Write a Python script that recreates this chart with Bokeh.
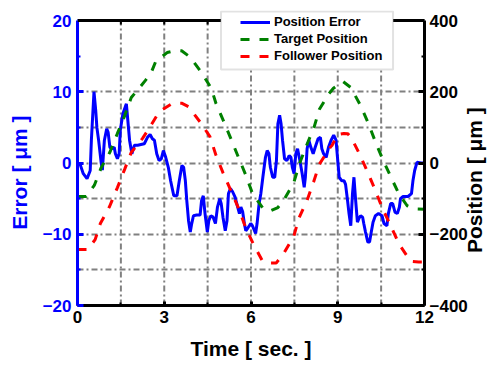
import math
from bokeh.plotting import figure
from bokeh.models import (Range1d, LinearAxis, FixedTicker, Legend,
                          LegendItem, Grid, BoxAnnotation, Span)
from bokeh.embed import file_html
from bokeh.resources import INLINE

# ---------------- data ----------------
err_t = [0, 0.1, 0.2, 0.33, 0.44, 0.48, 0.57, 0.63, 0.67, 0.73,
         0.82, 0.86, 0.93, 1.01, 1.06, 1.12, 1.18, 1.27, 1.31, 1.38,
         1.44, 1.48, 1.57, 1.69, 1.74, 1.80, 1.88, 1.97, 2.08, 2.31,
         2.42, 2.51, 2.59, 2.66, 2.74, 2.82, 2.90, 2.97, 3.05, 3.14,
         3.22, 3.33, 3.44, 3.52, 3.61, 3.67, 3.73, 3.78, 3.84, 3.90,
         3.95, 4.01, 4.12, 4.24, 4.29, 4.35, 4.41, 4.49, 4.54, 4.61,
         4.69, 4.77, 4.84, 4.92, 4.97, 5.03, 5.11, 5.17, 5.22, 5.29,
         5.36, 5.45, 5.54, 5.60, 5.65, 5.71, 5.77, 5.82, 5.88, 5.99,
         6.05, 6.16, 6.21, 6.28, 6.34, 6.41, 6.50, 6.56, 6.62, 6.67,
         6.75, 6.82, 6.88, 6.93, 6.99, 7.04, 7.09, 7.16, 7.24, 7.32,
         7.38, 7.43, 7.49, 7.55, 7.61, 7.69, 7.77, 7.84, 7.88, 7.94,
         8.00, 8.07, 8.15, 8.22, 8.32, 8.40, 8.45, 8.51, 8.60, 8.68,
         8.77, 8.86, 8.94, 9.00, 9.05, 9.14, 9.22, 9.27, 9.34, 9.39,
         9.45, 9.51, 9.56, 9.62, 9.68, 9.73, 9.79, 9.86, 9.90, 9.96,
         10.04, 10.10, 10.15, 10.22, 10.30, 10.41, 10.53, 10.60, 10.70, 10.75,
         10.83, 10.90, 10.98, 11.06, 11.13, 11.17, 11.26, 11.43, 11.55, 11.60,
         11.66, 11.74, 11.88, 12.0]
err_v = [0, -0.3, -1.5, -2.2, -1.05, 3.2, 10.0, 7.4, 5.0, 3.2,
         0.0, -1.0, 3.2, 4.8, 4.3, 2.2, 2.0, 2.2, 1.3, 0.6,
         1.3, 4.6, 6.9, 8.3, 6.0, 3.2, 1.3, 2.5, 2.5, 2.7,
         3.6, 4.0, 3.4, 3.2, 1.3, 0.35, 0.6, 1.75, 0.8, -0.6,
         -2.5, -4.6, -4.6, -2.5, -0.35, -0.6, -2.5, -5.3, -8.1, -9.7,
         -8.5, -7.4, -7.3, -7.3, -5.3, -4.6, -7.1, -9.7, -8.1, -7.4,
         -7.6, -8.5, -6.2, -5.0, -5.7, -7.6, -9.5, -8.1, -4.3, -3.6,
         -4.0, -4.8, -6.2, -7.1, -6.2, -6.8, -8.5, -9.5, -9.2, -8.5,
         -8.8, -9.9, -8.5, -5.7, -4.3, -2.0, 0.8, 1.75, 1.3, -0.6,
         -2.0, -2.0, 0.35, 5.5, 6.7, 5.5, 3.2, 0.6, 0.35, 1.05,
         0.8, -0.6, -1.5, 1.3, 2.0, 0.35, -1.5, -3.4, -2.0, 2.0,
         3.2, 2.2, 1.3, 2.2, 3.4, 3.6, 2.0, 1.3, 0.8, 2.2,
         3.2, 3.9, 3.2, 0.35, -2.0, -2.5, -2.5, -3.0, -5.3, -7.1,
         -8.8, -4.3, -2.0, -5.3, -8.3, -7.8, -7.4, -7.6, -8.5, -9.7,
         -11.1, -11.1, -9.9, -8.3, -7.4, -7.1, -7.4, -8.5, -8.8, -7.1,
         -5.7, -5.7, -6.9, -7.1, -6.2, -5.0, -4.7, -4.7, -4.3, -2.5,
         -1.05, 0.1, 0.0, 0.0]

tgt_t = [0, 0.3, 0.58, 0.82, 1.12, 1.38, 1.62, 1.86, 2.15, 2.35,
         2.55, 2.72, 2.83, 3.1, 3.4, 3.6, 3.9, 4.29, 4.63, 4.79,
         5.07, 5.3, 5.57, 5.81, 6.05, 6.42, 6.65, 6.93, 7.15, 7.48,
         7.68, 7.92, 8.18, 8.36, 8.7, 8.85, 9.18, 9.45, 9.79, 10.06,
         10.3, 10.54, 10.83, 11.11, 11.4, 11.66, 12.0]
tgt_v = [-94, -94, -63, -13, 30, 83, 130, 184, 212, 232,
         254, 288, 293, 310, 316, 315, 297, 254, 209, 167,
         114, 69, 15, -32, -85, -128, -135, -125, -102, -55,
         -1, 49, 100, 150, 195, 210, 229, 212, 161, 111,
         60, 13, -38, -86, -120, -129, -130]

fol_t = [0, 0.35, 0.61, 0.79, 1.11, 1.38, 1.63, 1.86, 2.25, 2.45,
         2.79, 2.88, 3.3, 3.6, 3.84, 4.25, 4.58, 4.78, 5.03, 5.3,
         5.56, 5.8, 6.07, 6.39, 6.6, 6.87, 7.13, 7.48, 7.65, 7.94,
         8.17, 8.36, 8.74, 8.8, 9.0, 9.21, 9.35, 9.48, 9.76, 10.04,
         10.3, 10.55, 10.84, 11.13, 11.52, 11.8, 12.0]
fol_v = [-243, -243, -215, -170, -122, -69, -18, 30, 69, 94,
         139, 147, 168, 168, 158, 114, 74, 24, -27, -77,
         -125, -178, -226, -274, -281, -281, -254, -206, -156, -105,
         -52, -4, 44, 49, 80, 83, 82, 69, 24, -27,
         -77, -128, -178, -229, -276, -278, -278]

x_ticks = [0, 3, 6, 9, 12]
x_minor = [1.5, 4.5, 7.5, 10.5]
y_ticks = [-20, -10, 0, 10, 20]
y_minor = [-15, -5, 5, 15]
pos_ticks = [-400, -200, 0, 200, 400]
pos_minor = [-300, -100, 100, 300]
grid_x = [1.5, 3, 4.5, 6, 7.5, 9, 10.5]
grid_y = [-15, -10, -5, 0, 5, 10]

FONT = "Liberation Sans"
BLUE = "#0000ff"
GREEN = "#008000"
RED = "#ff0000"
NB = "\u00a0"

# layout (pixels)
W, H = 500, 368
FL, FR, FT, FB = 77, 430, 10, 305      # frame edges
AX_TOP = 20                             # pixel of y = 20 (top of plot box)
ppu = (FB - AX_TOP) / 40.0              # pixels per error unit
y_hi = 20 + (AX_TOP - FT) / ppu
pos_hi = 400 + (AX_TOP - FT) / ppu * 20
xpu = (FR - FL) / 12.0

p = figure(width=W, height=H, output_backend="svg", toolbar_location=None,
           x_range=Range1d(0, 12), y_range=Range1d(-20, y_hi),
           x_axis_location=None, y_axis_location=None,
           min_border_left=FL, min_border_right=W - FR,
           min_border_top=FT, min_border_bottom=H - FB)
p.grid.visible = False
p.outline_line_color = None
p.background_fill_color = "white"
p.border_fill_color = "white"
p.extra_y_ranges = {"pos": Range1d(-400, pos_hi)}

GRID_COLOR = "#808080"
GRID_DASH = "6 3 2 3"
p.add_layout(Grid(dimension=1, ticker=FixedTicker(ticks=grid_y),
                  grid_line_color=GRID_COLOR, grid_line_width=2,
                  grid_line_dash=GRID_DASH))
p.segment(x0=grid_x, y0=[-20] * len(grid_x), x1=grid_x, y1=[20] * len(grid_x),
          line_color=GRID_COLOR, line_width=2, line_dash=GRID_DASH)


def style_axis(ax, color, major_in, minor_in, standoff):
    ax.axis_line_color = color
    ax.axis_line_width = 3
    ax.major_tick_line_color = color
    ax.minor_tick_line_color = color
    ax.major_tick_line_width = 3
    ax.minor_tick_line_width = 2
    ax.major_tick_in = major_in
    ax.major_tick_out = 0
    ax.minor_tick_in = minor_in
    ax.minor_tick_out = 0
    ax.major_label_text_color = color
    ax.major_label_text_font = FONT
    ax.major_label_text_font_style = "bold"
    ax.major_label_text_font_size = "17px"
    ax.major_label_standoff = standoff
    ax.axis_label_text_color = color
    ax.axis_label_text_font = FONT
    ax.axis_label_text_font_style = "bold"
    ax.axis_label_text_font_size = "21px"


bottom = LinearAxis(ticker=FixedTicker(ticks=x_ticks, minor_ticks=x_minor))
style_axis(bottom, "black", 4, 3, 5)
bottom.axis_label = "Time [ sec. ]"
bottom.axis_label_standoff = 11
p.add_layout(bottom, "below")

left = LinearAxis(ticker=FixedTicker(ticks=y_ticks, minor_ticks=y_minor),
                  bounds=(-20, 20))
style_axis(left, BLUE, 6, 3, 6)
left.axis_label = "Error [ μm ]" + NB * 5
left.axis_label_standoff = 9
p.add_layout(left, "left")

right = LinearAxis(y_range_name="pos", bounds=(-400, 400),
                   ticker=FixedTicker(ticks=pos_ticks, minor_ticks=pos_minor))
style_axis(right, "black", 6, 3, 5)
POS_TITLE = "Position [ μm ]"
if hasattr(right, "axis_label_orientation") and hasattr(right, "axis_label_align"):
    right.axis_label_orientation = math.pi / 2
    right.axis_label_align = "start"
    right.axis_label = NB * 9 + POS_TITLE
else:
    right.axis_label = NB * 5 + POS_TITLE
right.axis_label_standoff = 4
p.add_layout(right, "right")

# top edge of the plot box with inward ticks
p.add_layout(Span(location=20, dimension="width", line_color="black",
                  line_width=3))
top_ticks = x_minor + x_ticks[1:-1]
p.segment(x0=top_ticks, y0=[20] * len(top_ticks), x1=top_ticks,
          y1=[20 - 4 / ppu] * len(top_ticks), line_color="black", line_width=2)

# series
r_err = p.line(err_t, err_v, line_color=BLUE, line_width=3)
r_tgt = p.line(tgt_t, tgt_v, y_range_name="pos", line_color=GREEN,
               line_width=3, line_dash="9 10")
r_fol = p.line(fol_t, fol_v, y_range_name="pos", line_color=RED,
               line_width=3, line_dash="9 10")

# legend box
p.add_layout(BoxAnnotation(left=(223 - FL) / xpu, right=(398 - FL) / xpu,
                           top=20 + (AX_TOP - 11) / ppu,
                           bottom=20 - (69 - AX_TOP) / ppu,
                           fill_color="white", fill_alpha=1.0,
                           line_color="#a0a0a0", line_width=2,
                           level="annotation"))
legend = Legend(items=[LegendItem(label="Position Error", renderers=[r_err]),
                       LegendItem(label="Target Position", renderers=[r_tgt]),
                       LegendItem(label="Follower Position", renderers=[r_fol])],
                location=(240 - FL, FB - 63), margin=0, padding=0,
                glyph_width=30, glyph_height=14, label_height=14,
                label_standoff=4, spacing=2,
                border_line_color=None, background_fill_alpha=0,
                label_text_font=FONT, label_text_font_style="bold",
                label_text_font_size="13px", label_text_color="black")
p.add_layout(legend)

open("out.html", "w").write(file_html(p, INLINE))
